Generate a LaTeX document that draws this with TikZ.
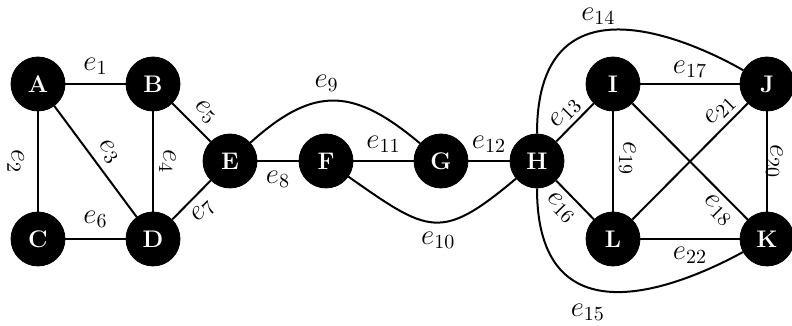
\documentclass[tikz,border=0pt]{standalone}
\begin{document}
\begin{tikzpicture}[x=0.5pt,y=0.5pt,
  vertex/.style={circle,fill=black,draw=black,minimum size=27pt,inner sep=0pt,text=white,font=\fontsize{12}{14}\selectfont\bfseries},
  lab/.style={font=\fontsize{14}{16}\selectfont,inner sep=2pt},
  edgeline/.style={line width=1pt}]
\useasboundingbox (0,0) rectangle (792,326);
\node[vertex] (A) at (38,242) {A};
\node[vertex] (B) at (153,242) {B};
\node[vertex] (C) at (38,87) {C};
\node[vertex] (D) at (153,87) {D};
\node[vertex] (E) at (230,165) {E};
\node[vertex] (F) at (326,165) {F};
\node[vertex] (G) at (441,165) {G};
\node[vertex] (H) at (537,165) {H};
\node[vertex] (I) at (613,242) {I};
\node[vertex] (J) at (767,242) {J};
\node[vertex] (L) at (613,87) {L};
\node[vertex] (K) at (767,87) {K};
\draw[edgeline] (A) -- node[lab,above=2pt]{$e_1$} (B);
\draw[edgeline] (A) -- node[lab,sloped,below=4.5pt]{$e_2$} (C);
\draw[edgeline] (A) -- node[lab,sloped,above=1.5pt]{$e_3$} (D);
\draw[edgeline] (B) -- node[lab,sloped,above=0.5pt]{$e_4$} (D);
\draw[edgeline] (B) -- node[lab,sloped,above=2pt,pos=0.54]{$e_5$} (E);
\draw[edgeline] (C) -- node[lab,above=3pt]{$e_6$} (D);
\draw[edgeline] (D) -- node[lab,sloped,below=1.5pt]{$e_7$} (E);
\draw[edgeline] (E) -- node[lab,below=2.5pt]{$e_8$} (F);
\draw[edgeline] (E) to[out=42,in=140,looseness=1.3] node[lab,pos=0.45,above=2pt]{$e_9$} (G);
\draw[edgeline] (F) to[out=-35,in=-140,looseness=1.5] node[lab,pos=0.53,below=2pt]{$e_{10}$} (H);
\draw[edgeline] (F) -- node[lab,above=1.5pt]{$e_{11}$} (G);
\draw[edgeline] (G) -- node[lab,above=1.5pt]{$e_{12}$} (H);
\draw[edgeline] (H) -- node[lab,sloped,above=0pt]{$e_{13}$} (I);
\draw[edgeline] (H) .. controls (537,365) and (709,275.5) .. node[lab,pos=0.36,above=2pt,xshift=4.5pt]{$e_{14}$} (J);
\draw[edgeline] (H) .. controls (537,-18) and (677,38) .. node[lab,pos=0.38,below=6pt,xshift=1pt]{$e_{15}$} (K);
\draw[edgeline] (H) -- node[lab,sloped,below=1pt,pos=0.42]{$e_{16}$} (L);
\draw[edgeline] (I) -- node[lab,above=0.5pt]{$e_{17}$} (J);
\draw[edgeline] (I) -- node[lab,sloped,below=0.5pt,pos=0.83]{$e_{18}$} (K);
\draw[edgeline] (I) -- node[lab,sloped,above=0.5pt,pos=0.47]{$e_{19}$} (L);
\draw[edgeline] (J) -- node[lab,sloped,above=-3pt]{$e_{20}$} (K);
\draw[edgeline] (L) -- node[lab,sloped,above=0.5pt,pos=0.85]{$e_{21}$} (J);
\draw[edgeline] (L) -- node[lab,below=1.5pt]{$e_{22}$} (K);
\end{tikzpicture}
\end{document}
